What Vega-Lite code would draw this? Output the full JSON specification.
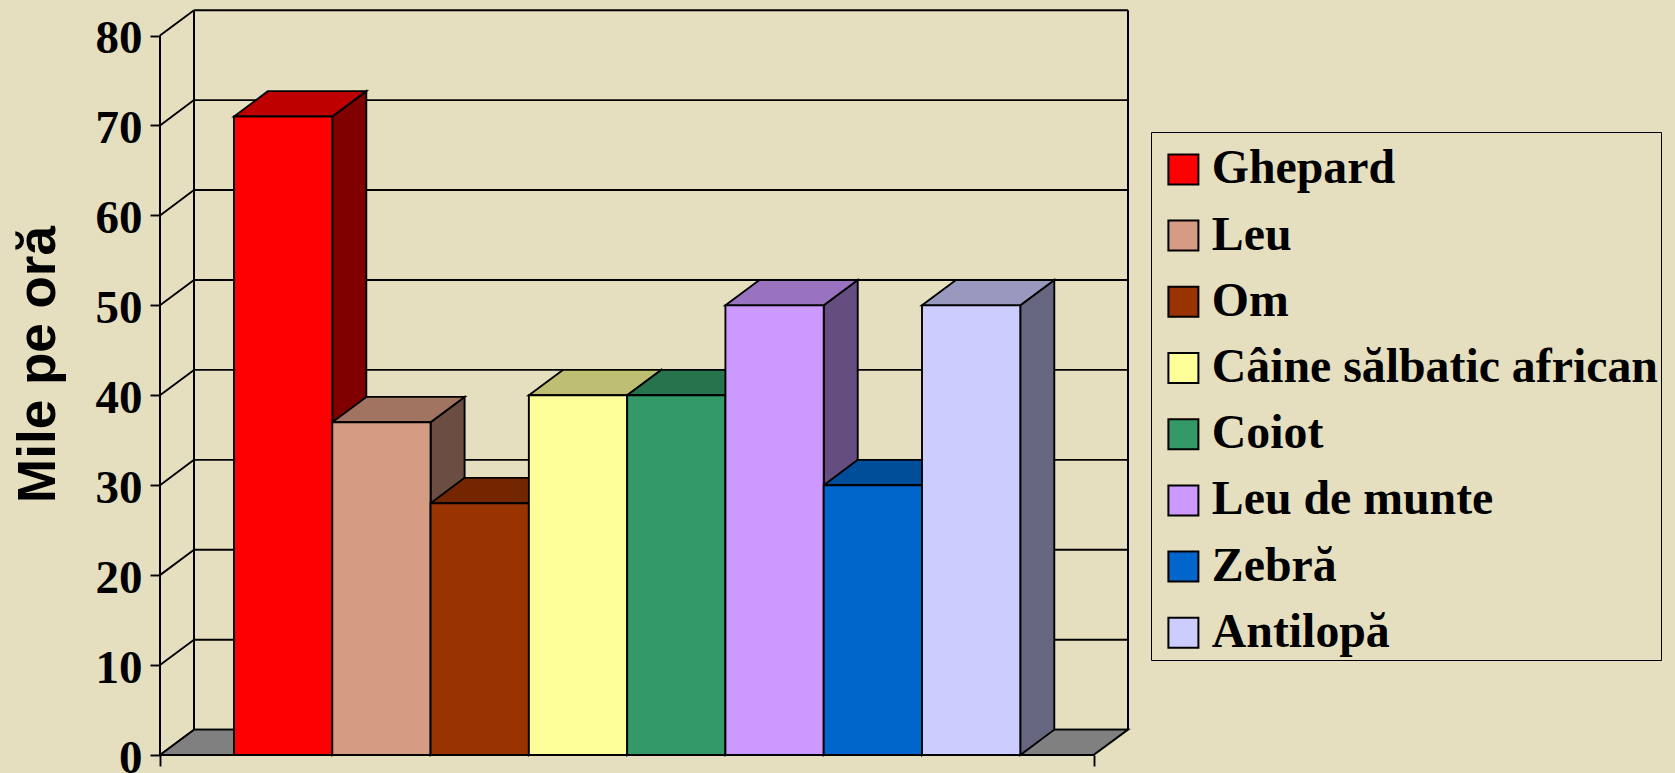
{
"$schema":"https://vega.github.io/schema/vega-lite/v6.json",
"width":968,"height":745,
"autosize":{"type":"none"},
"padding":{"left":160,"top":10,"right":547,"bottom":18},
"background":"#E5DFBF",
"view":{"stroke":null},
"config":{"font":"Liberation Serif"},
"datasets":{
"speeds":[
{"animal":"Ghepard","speed":71,"order":0},
{"animal":"Leu","speed":37,"order":1},
{"animal":"Om","speed":28,"order":2},
{"animal":"Câine sălbatic african","speed":40,"order":3},
{"animal":"Coiot","speed":40,"order":4},
{"animal":"Leu de munte","speed":50,"order":5},
{"animal":"Zebră","speed":30,"order":6},
{"animal":"Antilopă","speed":50,"order":7}
],
"ticks":[{"v":0},{"v":10},{"v":20},{"v":30},{"v":40},{"v":50},{"v":60},{"v":70},{"v":80}]
},
"layer":[
{"data":{"name":"ticks"},
"transform":[{"calculate":"datum.v+2.82","as":"yb"},{"calculate":"-0.407","as":"xa"},{"calculate":"9.096","as":"xb"}],
"mark":{"type":"rule","color":"black","strokeWidth":1.9},
"encoding":{
"x":{"field":"xa","type":"quantitative","scale":{"domain":[-0.753,9.096],"nice":false,"zero":false},"axis":null},
"x2":{"field":"xb"},
"y":{"field":"yb","type":"quantitative","scale":{"domain":[0,82.84],"nice":false,"zero":false},"axis":null}
}},
{"data":{"values":[{"xv":-0.407},{"xv":9.096}]},
"mark":{"type":"rule","color":"black","strokeWidth":2},
"encoding":{
"x":{"field":"xv","type":"quantitative","scale":{"domain":[-0.753,9.096],"nice":false,"zero":false},"axis":null},
"y":{"datum":2.82,"type":"quantitative","scale":{"domain":[0,82.84],"nice":false,"zero":false},"axis":null},
"y2":{"datum":82.82}
}},
{"data":{"name":"ticks"},
"transform":[{"calculate":"[0,1]","as":"t"},{"flatten":["t"]},{"calculate":"-0.753+datum.t*0.346","as":"xd"},{"calculate":"datum.v+datum.t*2.82","as":"yd"}],
"mark":{"type":"line","color":"black","strokeWidth":1.9},
"encoding":{
"x":{"field":"xd","type":"quantitative","scale":{"domain":[-0.753,9.096],"nice":false,"zero":false},"axis":null},
"y":{"field":"yd","type":"quantitative","scale":{"domain":[0,82.84],"nice":false,"zero":false},"axis":null},
"detail":{"field":"v"}
}},
{"data":{"values":[{"yf":0,"xl":-0.753,"xr":8.745},{"yf":2.82,"xl":-0.407,"xr":9.096}]},
"mark":{"type":"area","orient":"horizontal","fill":"#808080","stroke":"black","strokeWidth":1.9},
"encoding":{
"y":{"field":"yf","type":"quantitative","scale":{"domain":[0,82.84],"nice":false,"zero":false},"axis":null},
"x":{"field":"xl","type":"quantitative","scale":{"domain":[-0.753,9.096],"nice":false,"zero":false},"axis":null},
"x2":{"field":"xr"}
}},
{"data":{"name":"speeds"},
"transform":[{"calculate":"[0,1]","as":"t"},{"flatten":["t"]},{"calculate":"datum.order+1+datum.t*0.346","as":"xs"},{"calculate":"datum.t*2.82","as":"y0"},{"calculate":"datum.speed+datum.t*2.82","as":"y1"}],
"mark":{"type":"area","stroke":"black","strokeWidth":1.9},
"encoding":{
"x":{"field":"xs","type":"quantitative","scale":{"domain":[-0.753,9.096],"nice":false,"zero":false},"axis":null},
"y":{"field":"y1","type":"quantitative","scale":{"domain":[0,82.84],"nice":false,"zero":false},"axis":null},
"y2":{"field":"y0"},
"fill":{"field":"animal","type":"nominal","legend":null,"scale":{"domain":["Ghepard","Leu","Om","Câine sălbatic african","Coiot","Leu de munte","Zebră","Antilopă"],"range":["#800000","#6B4E41","#4D1A00","#808060","#1A4D33","#664D80","#003366","#666680"]}}
}},
{"data":{"name":"speeds"},
"transform":[{"calculate":"[0,1]","as":"t"},{"flatten":["t"]},{"calculate":"datum.order+datum.t*0.346","as":"xl"},{"calculate":"datum.order+1+datum.t*0.346","as":"xr"},{"calculate":"datum.speed+datum.t*2.82","as":"yt"}],
"mark":{"type":"area","orient":"horizontal","stroke":"black","strokeWidth":1.9},
"encoding":{
"y":{"field":"yt","type":"quantitative","scale":{"domain":[0,82.84],"nice":false,"zero":false},"axis":null},
"x":{"field":"xl","type":"quantitative","scale":{"domain":[-0.753,9.096],"nice":false,"zero":false},"axis":null},
"x2":{"field":"xr"},
"detail":{"field":"order"},
"fill":{"field":"animal","type":"nominal","legend":null,"scale":{"domain":["Ghepard","Leu","Om","Câine sălbatic african","Coiot","Leu de munte","Zebră","Antilopă"],"range":["#BF0000","#A17461","#732600","#BFBF73","#26734D","#9973BF","#004D99","#9999BF"]}}
}},
{"data":{"name":"speeds"},
"transform":[{"calculate":"datum.order+1","as":"xr"}],
"mark":{"type":"rect","stroke":"black","strokeWidth":1.9},
"encoding":{
"x":{"field":"order","type":"quantitative","scale":{"domain":[-0.753,9.096],"nice":false,"zero":false},"axis":null},
"x2":{"field":"xr"},
"y":{"field":"speed","type":"quantitative","scale":{"domain":[0,82.84],"nice":false,"zero":false},"axis":null},
"y2":{"datum":0},
"fill":{"field":"animal","type":"nominal","sort":null,
"scale":{"domain":["Ghepard","Leu","Om","Câine sălbatic african","Coiot","Leu de munte","Zebră","Antilopă"],"range":["#FF0000","#D69B83","#993300","#FFFF99","#339966","#CC99FF","#0066CC","#CCCCFF"]},
"legend":{"title":" ","titleFontSize":10.5,"titlePadding":0,"orient":"none","legendX":991,"legendY":122,"strokeColor":"black","padding":3,"symbolType":"square","symbolSize":900,"symbolStrokeColor":"black","symbolStrokeWidth":2,"symbolOffset":5.5,"labelExpr":"datum.label + '\u2009'","labelFont":"Liberation Serif","labelFontWeight":"bold","labelFontSize":47.8,"labelColor":"black","labelOffset":4.5,"labelLimit":600,"rowPadding":17.2,"symbolOpacity":1}}
}},
{"data":{"values":[{"xa":-0.753,"xb":8.745}]},
"mark":{"type":"rule","color":"black","strokeWidth":2},
"encoding":{
"x":{"field":"xa","type":"quantitative","scale":{"domain":[-0.753,9.096],"nice":false,"zero":false},
"axis":{"orient":"bottom","values":[-0.753,8.745],"labels":false,"domain":false,"ticks":true,"tickSize":11,"tickWidth":1.9,"tickColor":"black","grid":false,"title":null}},
"x2":{"field":"xb"},
"y":{"datum":0,"type":"quantitative","scale":{"domain":[0,82.84],"nice":false,"zero":false},"axis":null}
}},
{"data":{"values":[{"xa":-0.753}]},
"mark":{"type":"rule","color":"black","strokeWidth":2},
"encoding":{
"x":{"field":"xa","type":"quantitative","scale":{"domain":[-0.753,9.096],"nice":false,"zero":false},"axis":null},
"y":{"datum":0,"type":"quantitative","scale":{"domain":[0,82.84],"nice":false,"zero":false},
"axis":{"orient":"left","values":[0,10,20,30,40,50,60,70,80],"grid":false,"domain":false,"tickSize":10,"tickWidth":1.9,"tickColor":"black","labelFont":"Liberation Serif","labelFontWeight":"bold","labelFontSize":47,"labelColor":"black","labelPadding":8,"labelOffset":3,"title":"Mile pe oră","titleFont":"Liberation Sans","titleFontWeight":"bold","titleFontSize":53,"titleColor":"black","titleAngle":-90,"titleX":-95,"titleY":354,"titleAnchor":"middle","titleAlign":"center"}},
"y2":{"datum":80}
}}
],
"resolve":{"scale":{"fill":"independent"},"axis":{"x":"independent","y":"independent"}}
}
